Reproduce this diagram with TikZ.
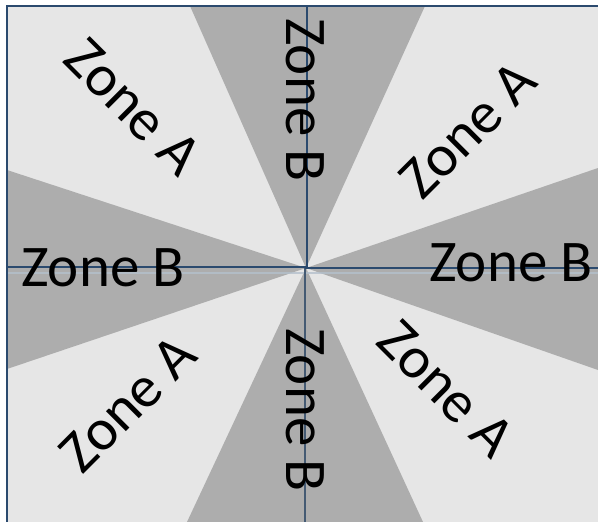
\documentclass[tikz,border=0pt]{standalone}
\usepackage{fontspec}
\setmainfont{Carlito}
\usepackage{xcolor}
\definecolor{zonelight}{HTML}{E6E6E6}
\definecolor{zonedark}{HTML}{ADADAD}
\definecolor{frameblue}{HTML}{2B4A6E}
\definecolor{faintblue}{HTML}{B4C0CC}
\tikzset{zonetext/.style={font=\fontsize{59}{62}\selectfont,inner sep=0pt}}
\begin{document}
\begin{tikzpicture}[x=1pt,y=-1pt]
			\useasboundingbox (0,0) rectangle (598,522);
			\coordinate (O) at (306,268);
			
			\fill[zonelight] (7,6) rectangle (598,522);
			\fill[zonedark] (O)--(190,6)--(425,6)--cycle;
			\fill[zonedark] (O)--(187,522)--(423,522)--cycle;
			\fill[zonedark] (O)--(7,170)--(7,369)--cycle;
			\fill[zonedark] (O)--(598,168)--(598,370)--cycle;
			
			\draw[faintblue,line width=2.5pt,opacity=0.8] (7,273)--(598,273);
			\draw[frameblue,line width=2.6pt] (7,522)--(7,6)--(598,6);
			\draw[frameblue,line width=2.4pt] (307,6)--(307,268);
			\draw[frameblue,line width=2.2pt] (7,267)--(307,267);
			\draw[frameblue!70!gray,line width=2pt] (305,268)--(305,522);
			\draw[frameblue,line width=2.2pt] (305,268)--(598,268);
			
			\node[zonetext,rotate=-45] (zaNW) at (133,107) {Zone A};
			\node[zonetext,rotate=45] (zaNE) at (468,130) {Zone A};
			\node[zonetext,rotate=45] (zaSW) at (128,404) {Zone A};
			\node[zonetext,rotate=-45] (zaSE) at (446,389) {Zone A};
			\node[zonetext,rotate=-90] (zbN) at (305,100) {Zone B};
			\node[zonetext,rotate=-90] (zbS) at (305,410) {Zone B};
			\node[zonetext] (zbW) at (103,268) {Zone B};
			\node[zonetext] (zbE) at (511,263) {Zone B};
		\end{tikzpicture}
\end{document}
